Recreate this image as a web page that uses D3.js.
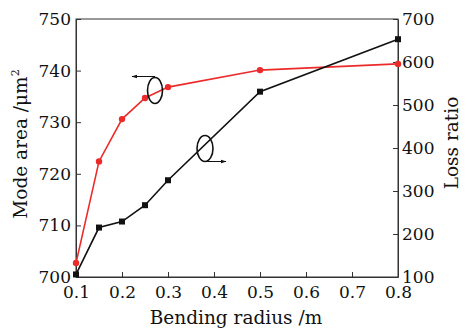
<!DOCTYPE html>
<html>
<head>
<meta charset="utf-8">
<script src="https://cdn.jsdelivr.net/npm/d3@7"></script>
<style>
body { margin: 0; background: #fff; }
svg text { font-family: "DejaVu Serif", "Liberation Serif", serif; fill: #111; }
</style>
</head>
<body>
<div id="chart"></div>
<script>
// data
var radius = [0.1, 0.15, 0.2, 0.25, 0.3, 0.5, 0.8];
var modeArea = [702.7, 722.4, 730.6, 734.7, 736.8, 740.1, 741.3];
var lossRatio = [106, 215, 229, 267, 325, 531, 653];
var xTicks = [0.1, 0.2, 0.3, 0.4, 0.5, 0.6, 0.7, 0.8];
var leftTicks = [700, 710, 720, 730, 740, 750];
var rightTicks = [100, 200, 300, 400, 500, 600, 700];

var W = 472, H = 331;
var margin = {top: 19, right: 74, bottom: 54, left: 76};
var width = W - margin.left - margin.right,
    height = H - margin.top - margin.bottom;

var svg = d3.select("#chart").append("svg")
    .attr("width", W).attr("height", H);

var defs = svg.append("defs");
defs.append("marker")
    .attr("id", "arr")
    .attr("viewBox", "0 0 10 10")
    .attr("refX", 9).attr("refY", 5)
    .attr("markerWidth", 6).attr("markerHeight", 6)
    .attr("markerUnits", "userSpaceOnUse")
    .attr("orient", "auto")
  .append("path")
    .attr("d", "M0,2 L10,5 L0,8 Z")
    .attr("fill", "#111");

var g = svg.append("g")
    .attr("transform", "translate(" + margin.left + "," + margin.top + ")");

var x = d3.scaleLinear().domain([0.1, 0.8]).range([0, width]);
var yL = d3.scaleLinear().domain([700, 750]).range([height, 0]);
var yR = d3.scaleLinear().domain([100, 700]).range([height, 0]);

// frame
g.append("rect")
    .attr("width", width).attr("height", height)
    .attr("fill", "none").attr("stroke", "#333").attr("stroke-width", 1);

// axes, ticks pointing inward
var xAxis = g.append("g")
    .attr("transform", "translate(0," + height + ")")
    .call(d3.axisBottom(x).tickValues(xTicks).tickSizeInner(-5).tickSizeOuter(0).tickPadding(9)
        .tickFormat(d3.format(".1f")));
var lAxis = g.append("g")
    .call(d3.axisLeft(yL).tickValues(leftTicks).tickSizeInner(-5).tickSizeOuter(0).tickPadding(5));
var rAxis = g.append("g")
    .attr("transform", "translate(" + width + ",0)")
    .call(d3.axisRight(yR).tickValues(rightTicks).tickSizeInner(-5).tickSizeOuter(0).tickPadding(4));

[xAxis, lAxis, rAxis].forEach(function(a) {
    a.select(".domain").attr("stroke", "#333");
    a.selectAll(".tick line").attr("stroke", "#333");
    a.selectAll("text").attr("font-size", 17).attr("font-family", null).attr("fill", "#111");
});
xAxis.selectAll("text").attr("dy", "0.71em");

// series
var redData = radius.map(function(r, i) { return {x: r, y: modeArea[i]}; });
var blackData = radius.map(function(r, i) { return {x: r, y: lossRatio[i]}; });

g.append("path")
    .datum(redData)
    .attr("fill", "none").attr("stroke", "#ec2a2a").attr("stroke-width", 1.6)
    .attr("d", d3.line().x(function(d) { return x(d.x); }).y(function(d) { return yL(d.y); }));
g.selectAll(".dotr").data(redData).enter().append("circle")
    .attr("cx", function(d) { return x(d.x); })
    .attr("cy", function(d) { return yL(d.y); })
    .attr("r", 3.2).attr("fill", "#ec2a2a");

g.append("path")
    .datum(blackData)
    .attr("fill", "none").attr("stroke", "#111").attr("stroke-width", 1.6)
    .attr("d", d3.line().x(function(d) { return x(d.x); }).y(function(d) { return yR(d.y); }));
g.selectAll(".sqb").data(blackData).enter().append("rect")
    .attr("x", function(d) { return x(d.x) - 3; })
    .attr("y", function(d) { return yR(d.y) - 3; })
    .attr("width", 6).attr("height", 6).attr("fill", "#111");

// ellipse + arrow annotations
var ann = svg.append("g");
ann.append("ellipse").attr("cx", 155).attr("cy", 90.5).attr("rx", 7.5).attr("ry", 13)
    .attr("fill", "none").attr("stroke", "#111").attr("stroke-width", 1.6);
ann.append("line").attr("x1", 155).attr("y1", 76.5).attr("x2", 132).attr("y2", 76.5)
    .attr("stroke", "#111").attr("stroke-width", 1).attr("marker-end", "url(#arr)");
ann.append("ellipse").attr("cx", 205).attr("cy", 148.5).attr("rx", 8).attr("ry", 13)
    .attr("fill", "none").attr("stroke", "#111").attr("stroke-width", 1.6);
ann.append("line").attr("x1", 205).attr("y1", 161.5).attr("x2", 226).attr("y2", 161.5)
    .attr("stroke", "#111").attr("stroke-width", 1).attr("marker-end", "url(#arr)");

// axis titles
svg.append("text")
    .attr("x", margin.left + width / 2 - 1).attr("y", 324)
    .attr("text-anchor", "middle").attr("font-size", 18.5)
    .text("Bending radius /m");
svg.append("text")
    .attr("transform", "translate(27,144) rotate(-90)")
    .attr("text-anchor", "middle").attr("font-size", 18.5)
    .html("Mode area /μm<tspan dy='-8' font-size='11'>2</tspan>");
svg.append("text")
    .attr("transform", "translate(458," + (margin.top + height / 2 - 5) + ") rotate(-90)")
    .attr("text-anchor", "middle").attr("font-size", 18.5)
    .text("Loss ratio");
</script>
</body>
</html>
